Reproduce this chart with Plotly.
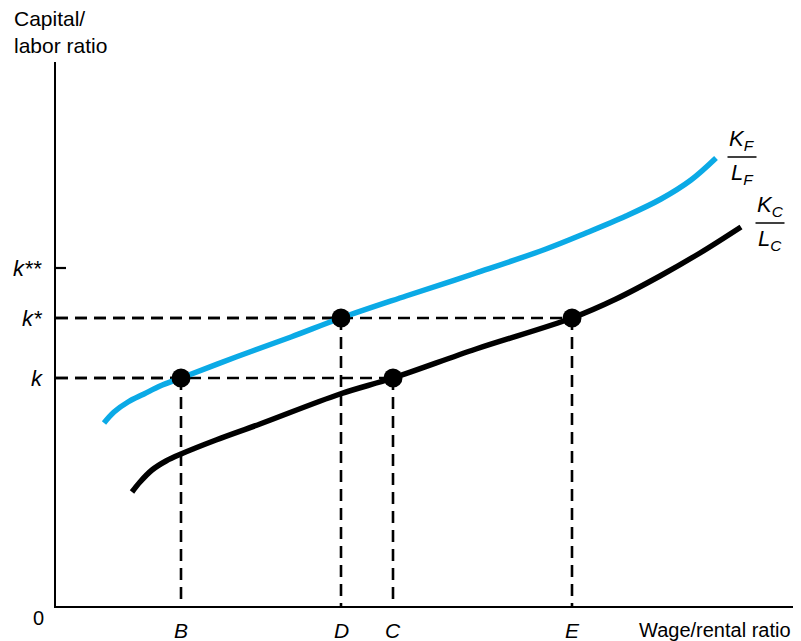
import plotly.graph_objects as go

# ---------------- data (arbitrary units) ----------------
# F curve (blue)
wr_F = [48, 58, 72, 88, 104, 125, 180, 235, 285, 350, 420, 490, 530, 570, 605, 635, 660]
kl_F = [183, 194, 204, 212, 220, 228, 249, 269, 288, 310, 333, 357, 373, 390, 407, 426, 448]
# C curve (black)
wr_C = [76, 84, 96, 110, 125, 160, 204, 284, 337, 420, 516, 560, 604, 644, 685]
kl_C = [114, 124, 136, 145, 152, 166, 182, 212, 228, 257, 288, 307, 330, 353, 379]

k_names = ["k", "k*", "k**"]
k_values = [228, 288, 338]

point_names = ["B", "D", "C", "E"]
point_wr = [125, 285, 337, 516]
point_kl = [228, 288, 228, 288]

X_MAX, Y_MAX = 737, 544

FONT = "Liberation Sans, Arial, Helvetica, sans-serif"
BLUE = "#0BAAE6"
DASH = dict(color="black", width=2.6, dash="12px,7px")

fig = go.Figure()

# dashed guide lines
for name, xv, yv in zip(point_names, point_wr, point_kl):
    fig.add_trace(go.Scatter(x=[0, xv], y=[yv, yv], mode="lines", line=DASH,
                             hoverinfo="skip", showlegend=False))
    fig.add_trace(go.Scatter(x=[xv, xv], y=[yv, 0], mode="lines", line=DASH,
                             hoverinfo="skip", showlegend=False))

# curves
fig.add_trace(go.Scatter(x=wr_F, y=kl_F, mode="lines",
                         line=dict(color=BLUE, width=5.5, shape="spline", smoothing=1.0),
                         showlegend=False))
fig.add_trace(go.Scatter(x=wr_C, y=kl_C, mode="lines",
                         line=dict(color="black", width=5.5, shape="spline", smoothing=1.0),
                         showlegend=False))

# points
fig.add_trace(go.Scatter(x=point_wr, y=point_kl, mode="markers",
                         marker=dict(color="black", size=19), showlegend=False))

# k** tick
fig.add_shape(type="line", x0=0, x1=10, y0=k_values[2], y1=k_values[2],
              line=dict(color="black", width=2.2))

ann = []
# axis titles
ann.append(dict(xref="paper", yref="paper", x=-44/737, y=(606 - 5)/544,
                xanchor="left", yanchor="top", align="left",
                text="Capital/<br>labor ratio", showarrow=False,
                font=dict(size=21, color="black", family=FONT)))
ann.append(dict(xref="paper", yref="paper", x=1.0, y=-24/544,
                xanchor="right", yanchor="middle",
                text="Wage/rental ratio", showarrow=False,
                font=dict(size=20, color="black", family=FONT)))
ann.append(dict(xref="paper", yref="paper", x=-18/737, y=-12/544,
                xanchor="center", yanchor="middle",
                text="0", showarrow=False,
                font=dict(size=20, color="black", family=FONT)))
# k labels
for name, v in zip(k_names, k_values):
    ann.append(dict(xref="paper", yref="y", x=-11/737, y=v,
                    xanchor="right", yanchor="middle",
                    text="<i>%s</i>" % name, showarrow=False,
                    font=dict(size=22, color="black", family=FONT)))
# point labels
for name, xv in zip(point_names, point_wr):
    ann.append(dict(xref="x", yref="paper", x=xv, y=-24/544,
                    xanchor="center", yanchor="middle",
                    text="<i>%s</i>" % name, showarrow=False,
                    font=dict(size=21, color="black", family=FONT)))

# curve fraction labels
def fraction(xc, yline, sub, width):
    ann.append(dict(xref="x", yref="y", x=xc, y=yline + 1, xanchor="center", yanchor="bottom",
                    text="<i>K</i><sub><i>%s</i></sub>" % sub, showarrow=False,
                    font=dict(size=22, color="black", family=FONT)))
    ann.append(dict(xref="x", yref="y", x=xc, y=yline - 1, xanchor="center", yanchor="top",
                    text="<i>L</i><sub><i>%s</i></sub>" % sub, showarrow=False,
                    font=dict(size=22, color="black", family=FONT)))
    fig.add_shape(type="line", x0=xc - width / 2, x1=xc + width / 2, y0=yline, y1=yline,
                  line=dict(color="black", width=1.5))

fraction(686, 449, "F", 29)
fraction(714, 383, "C", 29)

fig.update_layout(
    width=801, height=641,
    margin=dict(l=56, r=8, t=62, b=35),
    paper_bgcolor="white", plot_bgcolor="white",
    annotations=ann,
    xaxis=dict(range=[0, X_MAX], showgrid=False, zeroline=False, showticklabels=False,
               ticks="", showline=True, linecolor="black", linewidth=1.5, fixedrange=True),
    yaxis=dict(range=[0, Y_MAX], showgrid=False, zeroline=False, showticklabels=False,
               ticks="", showline=True, linecolor="black", linewidth=1.5, fixedrange=True),
    font=dict(family=FONT),
)

fig.write_html("out.html", config={"displayModeBar": False},
               post_script="document.body.style.margin='0';")
